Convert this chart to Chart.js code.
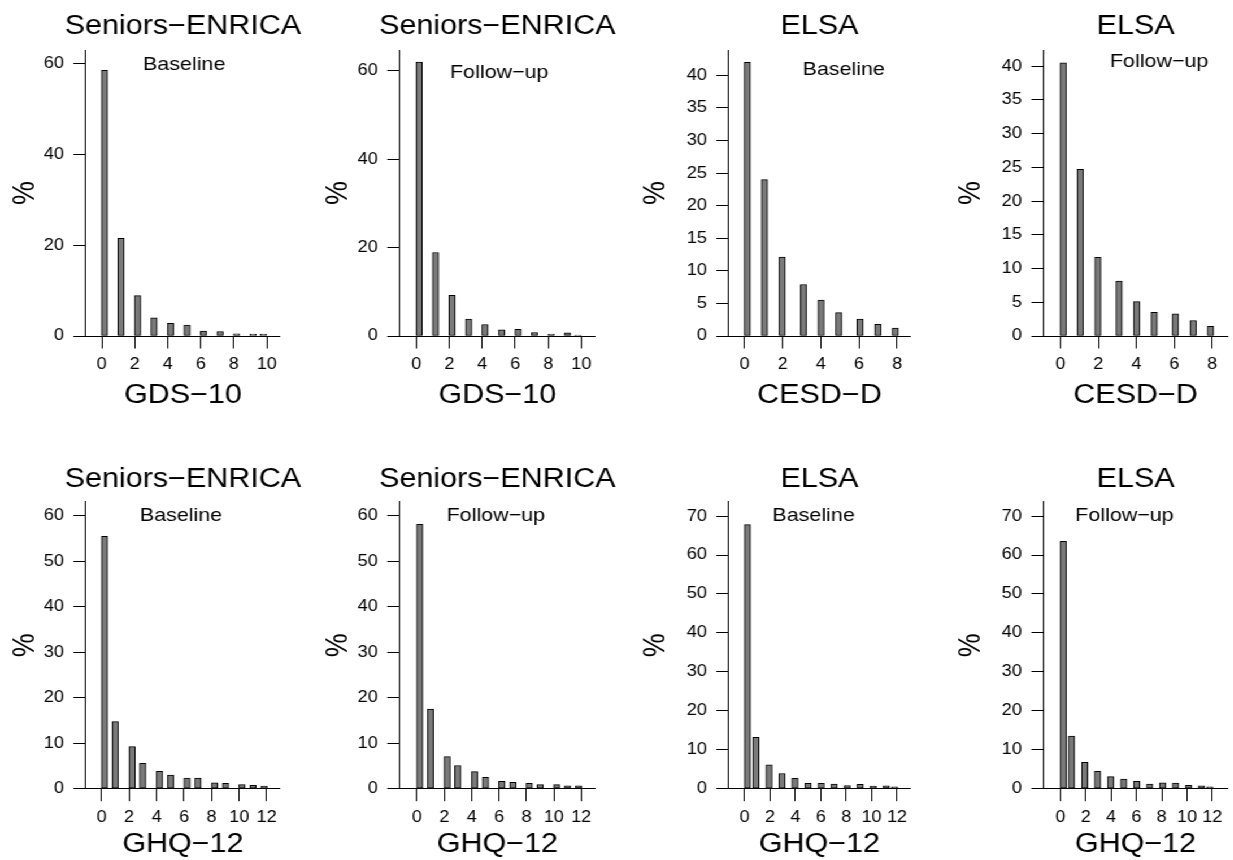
<!DOCTYPE html>
<html>
<head>
<meta charset="utf-8">
<script src="https://cdn.jsdelivr.net/npm/chart.js@4.4.0/dist/chart.umd.min.js"></script>
<style>
html, body { margin: 0; padding: 0; background: #fff; overflow: hidden; }
#fig { position: absolute; left: 0; top: 0; height: 860px; transform-origin: 0 0; }
#fig canvas { position: absolute; }
</style>
</head>
<body>
<div id="fig"></div>
<script>
// DATA (percent of sample per score)
const gdsScores = [0, 1, 2, 3, 4, 5, 6, 7, 8, 9, 10];
const cesdScores = [0, 1, 2, 3, 4, 5, 6, 7, 8];
const ghqScores = [0, 1, 2, 3, 4, 5, 6, 7, 8, 9, 10, 11, 12];

// bar positions on the x axis, as drawn by the histogram bins
const gdsBarX = [0.17, 1.17, 2.17, 3.17, 4.17, 5.17, 6.17, 7.17, 8.17, 9.17, 9.8];
const cesdBarX = [0.14, 1.04, 1.97, 3.09, 4.01, 4.94, 6.06, 6.99, 7.91];
const ghqEnricaBarX = [0.21, 0.99, 2.21, 2.99, 4.21, 5.01, 6.21, 7.01, 8.21, 9.01, 10.21, 11.01, 11.81];
const ghqElsaBarX = [0.22, 0.88, 1.92, 2.94, 3.96, 5.0, 6.02, 7.05, 8.07, 9.1, 10.12, 11.15, 11.8];

const gdsEnricaBase = [58.5, 21.5, 8.9, 4.0, 2.8, 2.4, 1.1, 1.0, 0.5, 0.4, 0.4];
const gdsEnricaFollow = [62.0, 18.9, 9.2, 3.85, 2.6, 1.4, 1.5, 0.8, 0.45, 0.7, 0.2];
const cesdElsaBase = [42.0, 24.0, 12.1, 7.9, 5.5, 3.6, 2.6, 1.8, 1.2];
const cesdElsaFollow = [40.5, 24.7, 11.65, 8.15, 5.1, 3.5, 3.3, 2.3, 1.45];
const ghqEnricaBase = [55.5, 14.75, 9.25, 5.6, 3.8, 3.0, 2.35, 2.35, 1.3, 1.2, 0.9, 0.75, 0.6];
const ghqEnricaFollow = [58.1, 17.5, 7.05, 5.1, 3.75, 2.5, 1.6, 1.4, 1.2, 0.9, 0.9, 0.65, 0.65];
const ghqElsaBase = [67.8, 13.2, 6.15, 3.9, 2.65, 1.4, 1.4, 1.2, 0.8, 1.1, 0.7, 0.75, 0.5];
const ghqElsaFollow = [63.5, 13.5, 6.75, 4.45, 3.1, 2.5, 1.9, 1.2, 1.5, 1.45, 0.85, 0.75, 0.5];

// tick labels
const gdsTicks = [0, 2, 4, 6, 8, 10];
const cesdTicks = [0, 2, 4, 6, 8];
const ghqTicks = [0, 2, 4, 6, 8, 10, 12];
const y60by20 = [0, 20, 40, 60];
const y40by5 = [0, 5, 10, 15, 20, 25, 30, 35, 40];
const y60by10 = [0, 10, 20, 30, 40, 50, 60];
const y70by10 = [0, 10, 20, 30, 40, 50, 60, 70];

// LAYOUT (figure looks horizontally stretched, so draw narrow and stretch)
const S = 1.13;
const FONT = "'Liberation Sans', Arial, Helvetica, sans-serif";
const colL = [0, 310, 620, 925];
const colR = [310, 620, 925, 1233];
const chartL = [85.7, 400, 728.3, 1043.3];
const chartR = [280, 595.5, 910, 1227];
const ylabOff = [-60, -61, -73, -73];
const rows = [
    { top: 50, bottom: 336, titleY: 26.3, xlabY: 396 },
    { top: 501.7, bottom: 788.7, titleY: 480, xlabY: 845 }
];

const panels = [
    { col: 0, row: 0, title: 'Seniors−ENRICA', sub: 'Baseline', xlab: 'GDS−10', x: gdsBarX, y: gdsEnricaBase, xTicks: gdsTicks, yTicks: y60by20, xMin: -0.97, xMax: 10.8, yMax: 63, subAt: [5, 59.8] },
    { col: 1, row: 0, title: 'Seniors−ENRICA', sub: 'Follow−up', xlab: 'GDS−10', x: gdsBarX, y: gdsEnricaFollow, xTicks: gdsTicks, yTicks: y60by20, xMin: -1.01, xMax: 10.84, yMax: 64.75, subAt: [5.03, 59.5] },
    { col: 2, row: 0, title: 'ELSA', sub: 'Baseline', xlab: 'CESD−D', x: cesdBarX, y: cesdElsaBase, xTicks: cesdTicks, yTicks: y40by5, xMin: -0.84, xMax: 8.7, yMax: 43.9, subAt: [5.2, 40.9] },
    { col: 3, row: 0, title: 'ELSA', sub: 'Follow−up', xlab: 'CESD−D', x: cesdBarX, y: cesdElsaFollow, xTicks: cesdTicks, yTicks: y40by5, xMin: -0.88, xMax: 8.8, yMax: 42.4, subAt: [5.2, 40.7] },
    { col: 0, row: 1, title: 'Seniors−ENRICA', sub: 'Baseline', xlab: 'GHQ−12', x: ghqEnricaBarX, y: ghqEnricaBase, xTicks: ghqTicks, yTicks: y60by10, xMin: -1.16, xMax: 12.97, yMax: 63.1, subAt: [5.77, 60] },
    { col: 1, row: 1, title: 'Seniors−ENRICA', sub: 'Follow−up', xlab: 'GHQ−12', x: ghqEnricaBarX, y: ghqEnricaFollow, xTicks: ghqTicks, yTicks: y60by10, xMin: -1.26, xMax: 13.02, yMax: 63.1, subAt: [5.77, 60] },
    { col: 2, row: 1, title: 'ELSA', sub: 'Baseline', xlab: 'GHQ−12', x: ghqElsaBarX, y: ghqElsaBase, xTicks: ghqTicks, yTicks: y70by10, xMin: -1.26, xMax: 13.05, yMax: 73.7, subAt: [5.43, 70] },
    { col: 3, row: 1, title: 'ELSA', sub: 'Follow−up', xlab: 'GHQ−12', x: ghqElsaBarX, y: ghqElsaFollow, xTicks: ghqTicks, yTicks: y70by10, xMin: -1.32, xMax: 13.2, yMax: 73.7, subAt: [5.06, 70] }
];

Chart.defaults.font.family = FONT;
Chart.defaults.color = '#000';

// titles, sub label, axis titles
const panelText = {
    id: 'panelText',
    afterDraw(chart, args, o) {
        const { ctx, chartArea: a, scales } = chart;
        const cx = (a.left + a.right) / 2;
        ctx.save();
        ctx.fillStyle = '#000';
        ctx.textAlign = 'center';
        ctx.textBaseline = 'middle';
        ctx.font = '27px ' + FONT;
        ctx.fillText(o.title, cx, o.titleY);
        ctx.fillText(o.xlab, cx, o.xlabY);
        ctx.font = '19px ' + FONT;
        ctx.fillText(o.sub, scales.x.getPixelForValue(o.subAt[0]), scales.y.getPixelForValue(o.subAt[1]));
        ctx.translate(a.left + o.ylabOff, (a.top + a.bottom) / 2);
        ctx.rotate(-Math.PI / 2);
        ctx.font = '27px ' + FONT;
        ctx.fillText('%', 0, 0);
        ctx.restore();
    }
};

const fig = document.getElementById('fig');
fig.style.width = (1233 / S) + 'px';
fig.style.transform = 'scaleX(' + S + ')';

panels.forEach(p => {
    const r = rows[p.row];
    const rowTop = p.row * 430;
    const W = Math.round((colR[p.col] - colL[p.col]) / S);
    const H = 430;

    const canvas = document.createElement('canvas');
    canvas.width = W;
    canvas.height = H;
    canvas.style.left = (colL[p.col] / S) + 'px';
    canvas.style.top = rowTop + 'px';
    fig.appendChild(canvas);

    const yw = (chartL[p.col] - colL[p.col]) / S;
    const xh = H - (r.bottom - rowTop);

    new Chart(canvas, {
        type: 'bar',
        data: {
            datasets: [{
                data: p.x.map((x, i) => ({ x: x, y: p.y[i] })),
                backgroundColor: '#7a7a7a',
                borderColor: '#000',
                borderWidth: 1,
                borderSkipped: false,
                barThickness: 5.6
            }]
        },
        options: {
            responsive: false,
            animation: false,
            devicePixelRatio: 1,
            events: [],
            layout: {
                padding: { left: 0, top: r.top - rowTop, right: W - (chartR[p.col] - colL[p.col]) / S, bottom: 0 }
            },
            plugins: {
                legend: { display: false },
                title: { display: false },
                tooltip: { enabled: false },
                panelText: {
                    title: p.title, sub: p.sub, xlab: p.xlab, subAt: p.subAt,
                    titleY: r.titleY - rowTop, xlabY: r.xlabY - rowTop,
                    ylabOff: ylabOff[p.col] / S
                }
            },
            scales: {
                x: {
                    type: 'linear',
                    min: p.xMin,
                    max: p.xMax,
                    offset: false,
                    afterBuildTicks: s => { s.ticks = p.xTicks.map(v => ({ value: v })); },
                    afterFit: s => { s.height = xh; },
                    grid: { drawOnChartArea: false, offset: false, tickLength: 12.5, color: '#000' },
                    border: { display: true, color: '#000', width: 1 },
                    ticks: { padding: 6.9, color: '#000', font: { size: 16 }, autoSkip: false, maxRotation: 0, minRotation: 0 }
                },
                y: {
                    min: 0,
                    max: p.yMax,
                    afterBuildTicks: s => { s.ticks = p.yTicks.map(v => ({ value: v })); },
                    afterFit: s => { s.width = yw; },
                    grid: { drawOnChartArea: false, tickLength: 10.9, color: '#000' },
                    border: { display: true, color: '#000', width: 1 },
                    ticks: { padding: 8.4, color: '#000', font: { size: 16 }, autoSkip: false }
                }
            }
        },
        plugins: [panelText]
    });
});
</script>
</body>
</html>
